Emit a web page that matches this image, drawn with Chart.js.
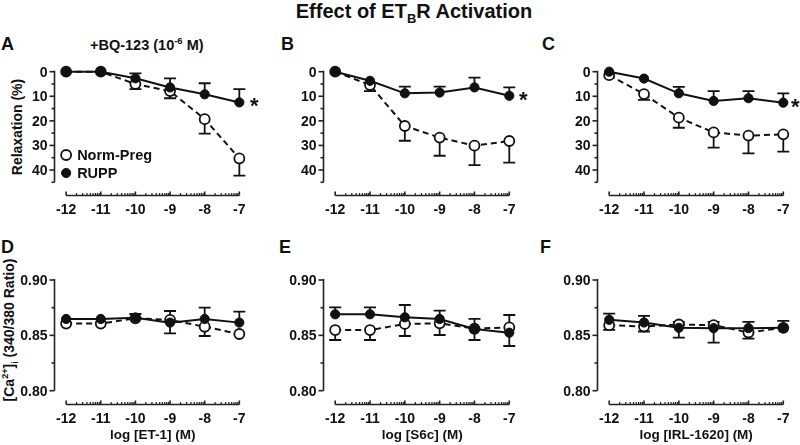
<!DOCTYPE html>
<html>
<head>
<meta charset="utf-8">
<script src="https://cdn.jsdelivr.net/npm/chart.js@4.4.1/dist/chart.umd.min.js"></script>
<style>
  html, body { margin: 0; padding: 0; background: #fff; }
  #fig { position: relative; width: 800px; height: 445px; overflow: hidden; background: #fff;
         font-family: "Liberation Sans", Arial, sans-serif; font-weight: bold; color: #111; }
  #fig canvas { position: absolute; }
  .lbl { position: absolute; white-space: nowrap; line-height: 1; transform: translate(0, -50%); }
  .mid { transform: translate(-50%, -50%); }
  .rot { transform: translate(-50%, -50%) rotate(-90deg); }
  .letter { font-size: 18px; }
  sub, sup { font-size: 65%; line-height: 0; }
</style>
</head>
<body>
<div id="fig">
  <div class="lbl mid" style="left:414px; top:11px; font-size:20px;">Effect of ET<sub>B</sub>R Activation</div>

  <div class="lbl letter" style="left:1px; top:44px;">A</div>
  <div class="lbl letter" style="left:281px; top:44px;">B</div>
  <div class="lbl letter" style="left:542px; top:44px;">C</div>
  <div class="lbl letter" style="left:1px; top:247px;">D</div>
  <div class="lbl letter" style="left:279px; top:247px;">E</div>
  <div class="lbl letter" style="left:540px; top:247px;">F</div>

  <div class="lbl" style="left:90px; top:45px; font-size:14.5px;">+BQ-123 (10<sup>-6</sup> M)</div>
  <div class="lbl rot" style="left:17px; top:127px; font-size:14px;">Relaxation (%)</div>
  <div class="lbl rot" style="left:9px; top:330px; font-size:14px;">[Ca<sup>2+</sup>]<sub>i</sub> (340/380 Ratio)</div>

  <canvas id="pA"></canvas>
  <canvas id="pB"></canvas>
  <canvas id="pC"></canvas>
  <canvas id="pD"></canvas>
  <canvas id="pE"></canvas>
  <canvas id="pF"></canvas>
</div>

<script>
// log molar concentrations (x axis)
const doses = [-12, -11, -10, -9, -8, -7];

// top row: relaxation (%)
const relaxTicks = [0, 10, 20, 30, 40];
const relaxMinor = [5, 15, 25, 35, 45];
// bottom row: [Ca2+]i ratio
const caTicks = [0.80, 0.85, 0.90];
const caMinor = [0.825, 0.875];

// A: ET-1 + BQ-123
const normA = [0, 0, 5.0, 7.9, 19.3, 35.3];
const normAErr = [0, 0, 2.1, 2.9, 5.9, 7.0];
const ruppA = [0, 0, 2.7, 6.4, 9.2, 12.5];
const ruppAErr = [0, 0, -2.0, -3.7, -4.5, -5.4];

// B: S6c
const normB = [0, 5.4, 22.1, 26.8, 30.1, 28.2];
const normBErr = [0, 2.5, 6.0, 7.4, 7.9, 8.8];
const ruppB = [0, 3.7, 8.8, 8.5, 6.4, 9.8];
const ruppBErr = [0, 0, -2.7, -2.4, -4.0, -3.4];

// C: IRL-1620
const normC = [1.4, 9.1, 18.7, 24.7, 26.0, 25.5];
const normCErr = [0, 2.4, 4.1, 6.2, 7.2, 7.0];
const ruppC = [0, 2.8, 8.8, 11.9, 10.8, 12.6];
const ruppCErr = [0, 0, -2.6, -4.0, -2.9, -3.8];

// D: ET-1, calcium
const normD = [0.8606, 0.8606, 0.8654, 0.8639, 0.8578, 0.8512];
const normDErr = [0, 0, 0, 0.0081, -0.0084, 0];
const ruppD = [0.8648, 0.8648, 0.8660, 0.8615, 0.8648, 0.8615];
const ruppDErr = [0, 0, 0.0033, -0.0097, 0.0102, 0.0099];

// E: S6c, calcium
const normE = [0.8548, 0.8548, 0.8603, 0.8609, 0.8560, 0.8572];
const normEErr = [-0.0090, -0.0090, -0.0109, -0.0106, -0.0102, 0.0112];
const ruppE = [0.8690, 0.8690, 0.8663, 0.8648, 0.8557, 0.8524];
const ruppEErr = [0.0063, 0.0063, 0.0111, 0.0075, 0.0091, -0.0120];

// F: IRL-1620, calcium
const normF = [0.8592, 0.8580, 0.8598, 0.8592, 0.8526, 0.8568];
const normFErr = [-0.0042, -0.0045, 0.0024, 0.0030, -0.0055, 0];
const ruppF = [0.8640, 0.8616, 0.8568, 0.8565, 0.8565, 0.8568];
const ruppFErr = [0.0057, 0.0060, -0.0088, -0.0130, 0.0057, 0.0063];

const seriesNames = ['Norm-Preg', 'RUPP'];

// panel placement (pixels)
const cols = [
  { left: 0, w: 265, padL: 54, padR: 17, starGap: 15 },
  { left: 270, w: 265, padL: 53, padR: 17, starGap: 14 },
  { left: 540, w: 260, padL: 57, padR: 8, starGap: 12 }
];
const rows = [
  { top: 55, h: 190, padT: 16.7, padB: 62.7 },
  { top: 250, h: 195, padT: 30, padB: 54.3 }
];

const FONT = '"Liberation Sans", Arial, sans-serif';
const INK = '#111';

// Prism-style detached axes, one-sided error bars, star and legend
const prismPlugin = {
  id: 'prism',
  beforeDatasetsDraw(chart, args, o) {
    const ctx = chart.ctx, xs = chart.scales.x, ys = chart.scales.y;
    ctx.save();
    ctx.strokeStyle = INK;
    ctx.lineWidth = 1.8;
    chart.data.datasets.forEach(ds => {
      ds.err.forEach((e, i) => {
        if (!e) return;
        const px = xs.getPixelForValue(doses[i]);
        const y0 = ys.getPixelForValue(ds.data[i].y);
        const y1 = ys.getPixelForValue(ds.data[i].y + e);
        ctx.beginPath();
        ctx.moveTo(px, y0); ctx.lineTo(px, y1);
        ctx.moveTo(px - 6, y1); ctx.lineTo(px + 6, y1);
        ctx.stroke();
      });
    });
    ctx.restore();
  },
  afterDraw(chart, args, o) {
    const ctx = chart.ctx, xs = chart.scales.x, ys = chart.scales.y, ca = chart.chartArea;
    ctx.save();
    ctx.strokeStyle = '#222';
    ctx.fillStyle = INK;
    ctx.lineWidth = 1.6;

    // y axis
    const ax = Math.round(ca.left) + 0.5;
    ctx.beginPath();
    ctx.moveTo(ax, ca.top - 1);
    ctx.lineTo(ax, ca.bottom);
    ctx.stroke();
    ctx.font = 'bold 14px ' + FONT;
    ctx.textAlign = 'right';
    ctx.textBaseline = 'middle';
    o.yMajor.forEach(v => {
      const py = ys.getPixelForValue(v);
      ctx.beginPath(); ctx.moveTo(ax - 5, py); ctx.lineTo(ax, py); ctx.stroke();
      ctx.fillText(o.yFmt(v), ax - 7, py + 1);
    });
    o.yMinor.forEach(v => {
      const py = ys.getPixelForValue(v);
      ctx.beginPath(); ctx.moveTo(ax - 3, py); ctx.lineTo(ax, py); ctx.stroke();
    });

    // x axis (log scale with decade minor ticks)
    const ay = Math.round(ca.bottom + 13) + 0.5;
    const x0 = xs.getPixelForValue(doses[0]);
    const x1 = xs.getPixelForValue(doses[doses.length - 1]);
    ctx.beginPath(); ctx.moveTo(x0, ay); ctx.lineTo(x1, ay); ctx.stroke();
    ctx.lineWidth = 1.2;
    for (let d = doses[0]; d < doses[doses.length - 1]; d++) {
      for (let k = 2; k <= 9; k++) {
        const px = xs.getPixelForValue(d + Math.log10(k));
        ctx.beginPath(); ctx.moveTo(px, ay); ctx.lineTo(px, ay - 2.5); ctx.stroke();
      }
    }
    ctx.lineWidth = 1.6;
    ctx.textAlign = 'center';
    doses.forEach(v => {
      const px = xs.getPixelForValue(v);
      ctx.beginPath(); ctx.moveTo(px, ay); ctx.lineTo(px, ay - 4); ctx.stroke();
      ctx.fillText(String(v), px, ay + 15);
    });
    if (o.xTitle) {
      ctx.font = 'bold 13.5px ' + FONT;
      ctx.fillText(o.xTitle, (x0 + x1) / 2, ay + 31);
    }

    // significance star next to last RUPP point
    if (o.star) {
      const last = chart.data.datasets[1].data[doses.length - 1];
      ctx.font = 'bold 22px ' + FONT;
      ctx.fillText('*', xs.getPixelForValue(last.x) + o.starGap, ys.getPixelForValue(last.y) + 5);
    }

    // legend inside panel A
    if (o.legend) {
      const lx = xs.getPixelForValue(doses[0]);
      const rowsY = [ca.top + 83.3, ca.top + 101.3];
      ctx.font = 'bold 14.5px ' + FONT;
      ctx.textAlign = 'left';
      chart.data.datasets.forEach((ds, i) => {
        const ly = rowsY[i];
        ctx.beginPath();
        ctx.arc(lx, ly, ds.pointRadius, 0, Math.PI * 2);
        ctx.fillStyle = ds.pointBackgroundColor;
        ctx.fill();
        ctx.lineWidth = ds.pointBorderWidth;
        ctx.strokeStyle = INK;
        ctx.stroke();
        ctx.fillStyle = INK;
        ctx.fillText(ds.label, lx + 11, ly + 1);
      });
    }
    ctx.restore();
  }
};

function makeDatasets(norm, normErr, rupp, ruppErr) {
  return [
    {
      label: seriesNames[0],
      data: doses.map((d, i) => ({ x: d, y: norm[i] })),
      err: normErr,
      borderColor: INK, borderWidth: 2, borderDash: [6, 4],
      pointRadius: 5, pointBorderWidth: 1.8,
      pointBackgroundColor: '#fff', pointBorderColor: INK,
      order: 2, clip: false, tension: 0
    },
    {
      label: seriesNames[1],
      data: doses.map((d, i) => ({ x: d, y: rupp[i] })),
      err: ruppErr,
      borderColor: INK, borderWidth: 2,
      pointRadius: 4.6, pointBorderWidth: 1,
      pointBackgroundColor: INK, pointBorderColor: INK,
      order: 1, clip: false, tension: 0
    }
  ];
}

function panel(id, col, row, datasets, extra) {
  const c = cols[col], r = rows[row];
  const cv = document.getElementById(id);
  cv.width = c.w; cv.height = r.h;
  cv.style.left = c.left + 'px'; cv.style.top = r.top + 'px';
  const top = row === 0;
  new Chart(cv.getContext('2d'), {
    type: 'line',
    data: { datasets: datasets },
    options: {
      responsive: false,
      animation: false,
      layout: { padding: { left: c.padL, right: c.padR, top: r.padT, bottom: r.padB } },
      scales: {
        x: { type: 'linear', display: false, min: -12.35, max: -6.75 },
        y: top
          ? { display: false, min: 0, max: 45, reverse: true }
          : { display: false, min: 0.80, max: 0.90 }
      },
      plugins: {
        legend: { display: false },
        tooltip: { enabled: false },
        prism: Object.assign({
          yMajor: top ? relaxTicks : caTicks,
          yMinor: top ? relaxMinor : caMinor,
          yFmt: top ? (v => String(v)) : (v => v.toFixed(2)),
          starGap: c.starGap
        }, extra)
      }
    },
    plugins: [prismPlugin]
  });
}

panel('pA', 0, 0, makeDatasets(normA, normAErr, ruppA, ruppAErr), { star: true, legend: true });
panel('pB', 1, 0, makeDatasets(normB, normBErr, ruppB, ruppBErr), { star: true });
panel('pC', 2, 0, makeDatasets(normC, normCErr, ruppC, ruppCErr), { star: true });
panel('pD', 0, 1, makeDatasets(normD, normDErr, ruppD, ruppDErr), { xTitle: 'log [ET-1] (M)' });
panel('pE', 1, 1, makeDatasets(normE, normEErr, ruppE, ruppEErr), { xTitle: 'log [S6c] (M)' });
panel('pF', 2, 1, makeDatasets(normF, normFErr, ruppF, ruppFErr), { xTitle: 'log [IRL-1620] (M)' });
</script>
</body>
</html>
